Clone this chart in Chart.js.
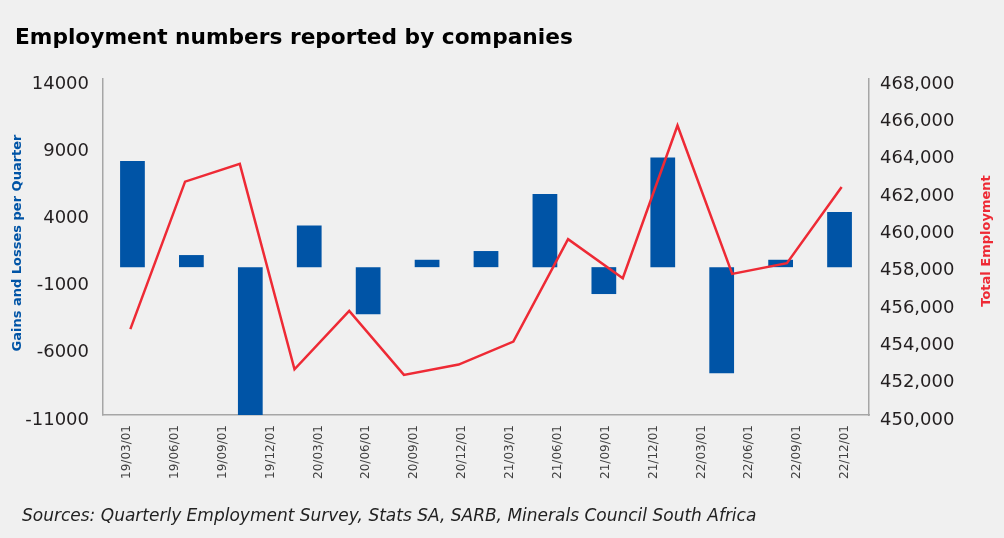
<!DOCTYPE html>
<html>
<head>
<meta charset="utf-8">
<title>Employment numbers reported by companies</title>
<script src="https://cdn.jsdelivr.net/npm/chart.js@4.4.1/dist/chart.umd.min.js"></script>
<style>
    html, body {
        margin: 0;
        padding: 0;
        background: #f0f0f0;
    }
    #wrap {
        position: relative;
        width: 1004px;
        height: 538px;
    }
    #title {
        position: absolute;
        left: 15px;
        top: 24px;
        font: bold 21.7px "DejaVu Sans", sans-serif;
        color: #000;
    }
    #source {
        position: absolute;
        left: 22px;
        top: 505px;
        font: italic 17px "DejaVu Sans", sans-serif;
        color: #222;
    }
    #chartBox {
        position: absolute;
        left: 0;
        top: 0;
        width: 1004px;
        height: 538px;
    }
</style>
</head>
<body>
<div id="wrap">
    <div id="chartBox"><canvas id="myChart"></canvas></div>
    <div id="title">Employment numbers reported by companies</div>
    <div id="source">Sources: Quarterly Employment Survey, Stats SA, SARB, Minerals Council South Africa</div>
</div>

<script>
// quarter labels along the bottom
const quarters = ['19/03/01', '19/06/01', '19/09/01', '19/12/01', '20/03/01', '20/06/01', '20/09/01', '20/12/01',
    '21/03/01', '21/06/01', '21/09/01', '21/12/01', '22/03/01', '22/06/01', '22/09/01', '22/12/01'];

// quarterly gains / losses (left axis)
const gainsLosses = [7900, 900, -11000, 3100, -3500, 550, 1200, 5450, -2000, 8150, -7900, 550, 4100];

// total employment (right axis)
const totalEmployment = [454600, 462500, 463450, 452450, 455580, 452150, 452700, 453930,
    459420, 457330, 465510, 457560, 458130, 462210];

const leftTicks = [-11000, -6000, -1000, 4000, 9000, 14000];
const rightMin = 450000;
const rightMax = 468000;

const blue = '#0054a6';
const red = '#ee2a35';
const axisGrey = '#a6a6a6';

// rotated axis titles, both reading bottom to top
const axisTitles = {
    id: 'axisTitles',
    afterDraw(chart) {
        const ctx = chart.ctx;
        const area = chart.chartArea;
        const midY = (area.top + area.bottom) / 2;
        ctx.save();
        ctx.textAlign = 'center';
        ctx.textBaseline = 'middle';
        ctx.font = 'bold 13px "DejaVu Sans", sans-serif';

        ctx.save();
        ctx.translate(18, midY - 4);
        ctx.rotate(-Math.PI / 2);
        ctx.fillStyle = blue;
        ctx.fillText('Gains and Losses per Quarter', 0, 0);
        ctx.restore();

        ctx.save();
        ctx.translate(987, midY - 6);
        ctx.rotate(-Math.PI / 2);
        ctx.fillStyle = red;
        ctx.fillText('Total Employment', 0, 0);
        ctx.restore();

        ctx.restore();
    }
};

function mainEvent() {
    const ctx = document.querySelector('#myChart');
    const tickFont = { family: 'DejaVu Sans', size: 18 };

    new Chart(ctx, {
        data: {
            labels: quarters,
            datasets: [
                {
                    type: 'line',
                    label: 'Total Employment',
                    data: totalEmployment,
                    xAxisID: 'xLine',
                    yAxisID: 'yRight',
                    borderColor: red,
                    borderWidth: 2.5,
                    pointRadius: 0,
                    tension: 0,
                    fill: false
                },
                {
                    type: 'bar',
                    label: 'Gains and Losses per Quarter',
                    data: gainsLosses,
                    xAxisID: 'xBar',
                    yAxisID: 'yLeft',
                    backgroundColor: blue,
                    grouped: false,
                    barPercentage: 1,
                    categoryPercentage: 0.42
                }
            ]
        },
        options: {
            responsive: true,
            maintainAspectRatio: false,
            animation: false,
            layout: {
                padding: { top: 79, bottom: 0, left: 0, right: 0 }
            },
            plugins: {
                legend: { display: false },
                tooltip: { enabled: false }
            },
            scales: {
                x: {
                    type: 'category',
                    labels: quarters,
                    offset: true,
                    grid: { display: false, drawTicks: false },
                    border: { display: true, color: axisGrey, width: 1.5 },
                    ticks: {
                        minRotation: 90,
                        maxRotation: 90,
                        autoSkip: false,
                        padding: 10,
                        color: '#404040',
                        font: { family: 'DejaVu Sans', size: 12 }
                    },
                    afterFit: (scale) => { scale.height = 123; }
                },
                xBar: {
                    type: 'category',
                    labels: gainsLosses.map((v, i) => 'b' + i),
                    offset: true,
                    display: false
                },
                xLine: {
                    type: 'category',
                    labels: totalEmployment.map((v, i) => 'l' + i),
                    offset: true,
                    display: false
                },
                yLeft: {
                    position: 'left',
                    min: -11000,
                    max: 14000,
                    afterBuildTicks: (scale) => {
                        scale.ticks = leftTicks.map(v => ({ value: v }));
                    },
                    grid: {
                        drawTicks: false,
                        lineWidth: 1.5,
                        color: (c) => (c.tick && c.tick.value === 0 ? axisGrey : 'transparent')
                    },
                    border: { display: true, color: axisGrey, width: 1.5 },
                    ticks: {
                        padding: 14,
                        labelOffset: 5,
                        color: '#231f20',
                        font: tickFont,
                        callback: (v) => String(v)
                    },
                    afterFit: (scale) => { scale.width = 103; }
                },
                yRight: {
                    position: 'right',
                    min: rightMin,
                    max: rightMax,
                    grid: { display: false, drawTicks: false },
                    border: { display: true, color: axisGrey, width: 1.5 },
                    ticks: {
                        stepSize: 2000,
                        padding: 11,
                        labelOffset: 5,
                        color: '#231f20',
                        font: tickFont,
                        callback: (v) => v.toLocaleString('en-US')
                    },
                    afterFit: (scale) => { scale.width = 135; }
                }
            }
        },
        plugins: [axisTitles]
    });
}

document.addEventListener('DOMContentLoaded', () => mainEvent());
</script>
</body>
</html>
